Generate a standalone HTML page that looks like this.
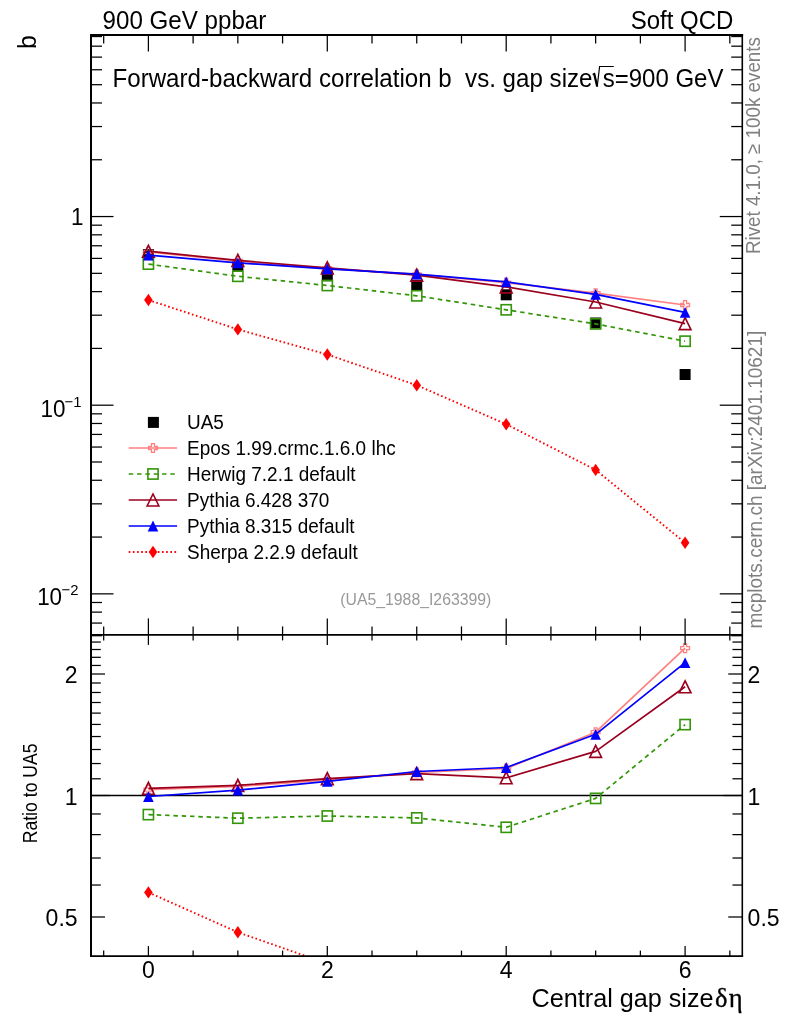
<!DOCTYPE html>
<html><head><meta charset="utf-8"><title>Forward-backward correlation b vs. gap size</title>
<style>html,body{margin:0;padding:0;background:#fff}svg{display:block;will-change:transform}text{white-space:pre}</style></head>
<body><svg width="786" height="1024" viewBox="0 0 786 1024">
<rect width="786" height="1024" fill="#fff"/>
<clipPath id="cr"><rect x="91.0" y="634.9" width="651.25" height="321.20000000000005"/></clipPath>
<rect x="142.9" y="249.1" width="11" height="11" fill="#000"/>
<rect x="232.35" y="259.8" width="11" height="11" fill="#000"/>
<rect x="321.8" y="270.3" width="11" height="11" fill="#000"/>
<rect x="411.25" y="279.8" width="11" height="11" fill="#000"/>
<rect x="500.7" y="289.3" width="11" height="11" fill="#000"/>
<rect x="590.15" y="317.5" width="11" height="11" fill="#000"/>
<rect x="679.6" y="369" width="11" height="11" fill="#000"/>
<polyline points="148.4,252 237.85,261 327.3,268.4 416.75,274.4 506.2,282.6 595.65,293.2 685.1,305" fill="none" stroke="#ff8080" stroke-width="1.7" stroke-linejoin="round" />
<path d="M146.9 247.6H149.9V250.5H152.8V253.5H149.9V256.4H146.9V253.5H144V250.5H146.9Z" fill="none" stroke="#ff8080" stroke-width="1.3"/>
<path d="M236.35 256.6H239.35V259.5H242.25V262.5H239.35V265.4H236.35V262.5H233.45V259.5H236.35Z" fill="none" stroke="#ff8080" stroke-width="1.3"/>
<path d="M325.8 264H328.8V266.9H331.7V269.9H328.8V272.8H325.8V269.9H322.9V266.9H325.8Z" fill="none" stroke="#ff8080" stroke-width="1.3"/>
<path d="M415.25 270H418.25V272.9H421.15V275.9H418.25V278.8H415.25V275.9H412.35V272.9H415.25Z" fill="none" stroke="#ff8080" stroke-width="1.3"/>
<path d="M504.7 278.2H507.7V281.1H510.6V284.1H507.7V287H504.7V284.1H501.8V281.1H504.7Z" fill="none" stroke="#ff8080" stroke-width="1.3"/>
<path d="M594.15 288.8H597.15V291.7H600.05V294.7H597.15V297.6H594.15V294.7H591.25V291.7H594.15Z" fill="none" stroke="#ff8080" stroke-width="1.3"/>
<path d="M683.6 300.6H686.6V303.5H689.5V306.5H686.6V309.4H683.6V306.5H680.7V303.5H683.6Z" fill="none" stroke="#ff8080" stroke-width="1.3"/>
<polyline points="148.4,264.1 237.85,276.3 327.3,285.5 416.75,295.8 506.2,309.8 595.65,323.9 685.1,341.2" fill="none" stroke="#339508" stroke-width="1.7" stroke-linejoin="round" stroke-dasharray="4.5 3.83" />
<rect x="143.3" y="259" width="10.2" height="10.2" fill="none" stroke="#339508" stroke-width="1.6"/>
<rect x="232.75" y="271.2" width="10.2" height="10.2" fill="none" stroke="#339508" stroke-width="1.6"/>
<rect x="322.2" y="280.4" width="10.2" height="10.2" fill="none" stroke="#339508" stroke-width="1.6"/>
<rect x="411.65" y="290.7" width="10.2" height="10.2" fill="none" stroke="#339508" stroke-width="1.6"/>
<rect x="501.1" y="304.7" width="10.2" height="10.2" fill="none" stroke="#339508" stroke-width="1.6"/>
<rect x="590.55" y="318.8" width="10.2" height="10.2" fill="none" stroke="#339508" stroke-width="1.6"/>
<rect x="680" y="336.1" width="10.2" height="10.2" fill="none" stroke="#339508" stroke-width="1.6"/>
<polyline points="148.4,251.2 237.85,260.4 327.3,267.9 416.75,275.1 506.2,286.9 595.65,302 685.1,323.6" fill="none" stroke="#9a001e" stroke-width="1.7" stroke-linejoin="round" />
<path d="M142.5 257.2L154.3 257.2L148.4 245.2Z" fill="none" stroke="#9a001e" stroke-width="1.6" stroke-linejoin="miter"/>
<path d="M231.95 266.4L243.75 266.4L237.85 254.4Z" fill="none" stroke="#9a001e" stroke-width="1.6" stroke-linejoin="miter"/>
<path d="M321.4 273.9L333.2 273.9L327.3 261.9Z" fill="none" stroke="#9a001e" stroke-width="1.6" stroke-linejoin="miter"/>
<path d="M410.85 281.1L422.65 281.1L416.75 269.1Z" fill="none" stroke="#9a001e" stroke-width="1.6" stroke-linejoin="miter"/>
<path d="M500.3 292.9L512.1 292.9L506.2 280.9Z" fill="none" stroke="#9a001e" stroke-width="1.6" stroke-linejoin="miter"/>
<path d="M589.75 308L601.55 308L595.65 296Z" fill="none" stroke="#9a001e" stroke-width="1.6" stroke-linejoin="miter"/>
<path d="M679.2 329.6L691 329.6L685.1 317.6Z" fill="none" stroke="#9a001e" stroke-width="1.6" stroke-linejoin="miter"/>
<polyline points="148.4,255.1 237.85,262.8 327.3,268.9 416.75,274.2 506.2,281.9 595.65,294.3 685.1,312.3" fill="none" stroke="#0000ff" stroke-width="1.7" stroke-linejoin="round" />
<path d="M143.1 260.5L153.7 260.5L148.4 249.7Z" fill="#0000ff"/>
<path d="M232.55 268.2L243.15 268.2L237.85 257.4Z" fill="#0000ff"/>
<path d="M322 274.3L332.6 274.3L327.3 263.5Z" fill="#0000ff"/>
<path d="M411.45 279.6L422.05 279.6L416.75 268.8Z" fill="#0000ff"/>
<path d="M500.9 287.3L511.5 287.3L506.2 276.5Z" fill="#0000ff"/>
<path d="M590.35 299.7L600.95 299.7L595.65 288.9Z" fill="#0000ff"/>
<path d="M679.8 317.7L690.4 317.7L685.1 306.9Z" fill="#0000ff"/>
<polyline points="148.4,300 237.85,329.4 327.3,354.5 416.75,385.2 506.2,424.2 595.65,469.9 685.1,542.8" fill="none" stroke="#ff0000" stroke-width="1.9" stroke-linejoin="round" stroke-dasharray="1.6 2.565" />
<path d="M144.1 300L148.4 293.8L152.7 300L148.4 306.2Z" fill="#ff0000"/>
<path d="M233.55 329.4L237.85 323.2L242.15 329.4L237.85 335.6Z" fill="#ff0000"/>
<path d="M323 354.5L327.3 348.3L331.6 354.5L327.3 360.7Z" fill="#ff0000"/>
<path d="M412.45 385.2L416.75 379L421.05 385.2L416.75 391.4Z" fill="#ff0000"/>
<path d="M501.9 424.2L506.2 418L510.5 424.2L506.2 430.4Z" fill="#ff0000"/>
<path d="M591.35 469.9L595.65 463.7L599.95 469.9L595.65 476.1Z" fill="#ff0000"/>
<path d="M680.8 542.8L685.1 536.6L689.4 542.8L685.1 549Z" fill="#ff0000"/>
<line x1="91" y1="795.5" x2="742.25" y2="795.5" stroke="#000" stroke-width="1.3" />
<polyline points="148.4,789.7 237.85,786.5 327.3,780 416.75,772.5 506.2,768.5 595.65,732.2 685.1,648.2" fill="none" stroke="#ff8080" stroke-width="1.7" stroke-linejoin="round" clip-path="url(#cr)" />
<path d="M146.9 785.3H149.9V788.2H152.8V791.2H149.9V794.1H146.9V791.2H144V788.2H146.9Z" fill="none" stroke="#ff8080" stroke-width="1.3"/>
<path d="M236.35 782.1H239.35V785H242.25V788H239.35V790.9H236.35V788H233.45V785H236.35Z" fill="none" stroke="#ff8080" stroke-width="1.3"/>
<path d="M325.8 775.6H328.8V778.5H331.7V781.5H328.8V784.4H325.8V781.5H322.9V778.5H325.8Z" fill="none" stroke="#ff8080" stroke-width="1.3"/>
<path d="M415.25 768.1H418.25V771H421.15V774H418.25V776.9H415.25V774H412.35V771H415.25Z" fill="none" stroke="#ff8080" stroke-width="1.3"/>
<path d="M504.7 764.1H507.7V767H510.6V770H507.7V772.9H504.7V770H501.8V767H504.7Z" fill="none" stroke="#ff8080" stroke-width="1.3"/>
<path d="M594.15 727.8H597.15V730.7H600.05V733.7H597.15V736.6H594.15V733.7H591.25V730.7H594.15Z" fill="none" stroke="#ff8080" stroke-width="1.3"/>
<path d="M683.6 643.8H686.6V646.7H689.5V649.7H686.6V652.6H683.6V649.7H680.7V646.7H683.6Z" fill="none" stroke="#ff8080" stroke-width="1.3"/>
<polyline points="148.4,814.6 237.85,818.2 327.3,816 416.75,817.9 506.2,827.3 595.65,798.4 685.1,724.6" fill="none" stroke="#339508" stroke-width="1.7" stroke-linejoin="round" stroke-dasharray="4.5 3.83" clip-path="url(#cr)" />
<rect x="143.3" y="809.5" width="10.2" height="10.2" fill="none" stroke="#339508" stroke-width="1.6"/>
<rect x="232.75" y="813.1" width="10.2" height="10.2" fill="none" stroke="#339508" stroke-width="1.6"/>
<rect x="322.2" y="810.9" width="10.2" height="10.2" fill="none" stroke="#339508" stroke-width="1.6"/>
<rect x="411.65" y="812.8" width="10.2" height="10.2" fill="none" stroke="#339508" stroke-width="1.6"/>
<rect x="501.1" y="822.2" width="10.2" height="10.2" fill="none" stroke="#339508" stroke-width="1.6"/>
<rect x="590.55" y="793.3" width="10.2" height="10.2" fill="none" stroke="#339508" stroke-width="1.6"/>
<rect x="680" y="719.5" width="10.2" height="10.2" fill="none" stroke="#339508" stroke-width="1.6"/>
<polyline points="148.4,788.4 237.85,785.4 327.3,778.6 416.75,773.6 506.2,777.8 595.65,751.4 685.1,686.8" fill="none" stroke="#9a001e" stroke-width="1.7" stroke-linejoin="round" clip-path="url(#cr)" />
<path d="M142.5 794.4L154.3 794.4L148.4 782.4Z" fill="none" stroke="#9a001e" stroke-width="1.6" stroke-linejoin="miter"/>
<path d="M231.95 791.4L243.75 791.4L237.85 779.4Z" fill="none" stroke="#9a001e" stroke-width="1.6" stroke-linejoin="miter"/>
<path d="M321.4 784.6L333.2 784.6L327.3 772.6Z" fill="none" stroke="#9a001e" stroke-width="1.6" stroke-linejoin="miter"/>
<path d="M410.85 779.6L422.65 779.6L416.75 767.6Z" fill="none" stroke="#9a001e" stroke-width="1.6" stroke-linejoin="miter"/>
<path d="M500.3 783.8L512.1 783.8L506.2 771.8Z" fill="none" stroke="#9a001e" stroke-width="1.6" stroke-linejoin="miter"/>
<path d="M589.75 757.4L601.55 757.4L595.65 745.4Z" fill="none" stroke="#9a001e" stroke-width="1.6" stroke-linejoin="miter"/>
<path d="M679.2 692.8L691 692.8L685.1 680.8Z" fill="none" stroke="#9a001e" stroke-width="1.6" stroke-linejoin="miter"/>
<polyline points="148.4,796.5 237.85,790.2 327.3,781.4 416.75,771.5 506.2,767.5 595.65,734.3 685.1,662.6" fill="none" stroke="#0000ff" stroke-width="1.7" stroke-linejoin="round" clip-path="url(#cr)" />
<path d="M143.1 801.9L153.7 801.9L148.4 791.1Z" fill="#0000ff"/>
<path d="M232.55 795.6L243.15 795.6L237.85 784.8Z" fill="#0000ff"/>
<path d="M322 786.8L332.6 786.8L327.3 776Z" fill="#0000ff"/>
<path d="M411.45 776.9L422.05 776.9L416.75 766.1Z" fill="#0000ff"/>
<path d="M500.9 772.9L511.5 772.9L506.2 762.1Z" fill="#0000ff"/>
<path d="M590.35 739.7L600.95 739.7L595.65 728.9Z" fill="#0000ff"/>
<path d="M679.8 668L690.4 668L685.1 657.2Z" fill="#0000ff"/>
<polyline points="148.4,892.4 237.85,932.3 327.3,963.5" fill="none" stroke="#ff0000" stroke-width="1.9" stroke-linejoin="round" stroke-dasharray="1.6 2.565" clip-path="url(#cr)" />
<path d="M144.1 892.4L148.4 886.2L152.7 892.4L148.4 898.6Z" fill="#ff0000"/>
<path d="M233.55 932.3L237.85 926.1L242.15 932.3L237.85 938.5Z" fill="#ff0000"/>
<line x1="103.68" y1="35" x2="103.68" y2="43.5" stroke="#000" stroke-width="1.25" />
<line x1="103.68" y1="634.9" x2="103.68" y2="626.4" stroke="#000" stroke-width="1.25" />
<line x1="103.68" y1="634.9" x2="103.68" y2="640.4" stroke="#000" stroke-width="1.25" />
<line x1="103.68" y1="956.1" x2="103.68" y2="950.6" stroke="#000" stroke-width="1.25" />
<line x1="148.4" y1="35" x2="148.4" y2="51.5" stroke="#000" stroke-width="1.25" />
<line x1="148.4" y1="634.9" x2="148.4" y2="618.4" stroke="#000" stroke-width="1.25" />
<line x1="148.4" y1="634.9" x2="148.4" y2="644.9" stroke="#000" stroke-width="1.25" />
<line x1="148.4" y1="956.1" x2="148.4" y2="946.1" stroke="#000" stroke-width="1.25" />
<line x1="193.12" y1="35" x2="193.12" y2="43.5" stroke="#000" stroke-width="1.25" />
<line x1="193.12" y1="634.9" x2="193.12" y2="626.4" stroke="#000" stroke-width="1.25" />
<line x1="193.12" y1="634.9" x2="193.12" y2="640.4" stroke="#000" stroke-width="1.25" />
<line x1="193.12" y1="956.1" x2="193.12" y2="950.6" stroke="#000" stroke-width="1.25" />
<line x1="237.85" y1="35" x2="237.85" y2="43.5" stroke="#000" stroke-width="1.25" />
<line x1="237.85" y1="634.9" x2="237.85" y2="626.4" stroke="#000" stroke-width="1.25" />
<line x1="237.85" y1="634.9" x2="237.85" y2="640.4" stroke="#000" stroke-width="1.25" />
<line x1="237.85" y1="956.1" x2="237.85" y2="950.6" stroke="#000" stroke-width="1.25" />
<line x1="282.58" y1="35" x2="282.58" y2="43.5" stroke="#000" stroke-width="1.25" />
<line x1="282.58" y1="634.9" x2="282.58" y2="626.4" stroke="#000" stroke-width="1.25" />
<line x1="282.58" y1="634.9" x2="282.58" y2="640.4" stroke="#000" stroke-width="1.25" />
<line x1="282.58" y1="956.1" x2="282.58" y2="950.6" stroke="#000" stroke-width="1.25" />
<line x1="327.3" y1="35" x2="327.3" y2="51.5" stroke="#000" stroke-width="1.25" />
<line x1="327.3" y1="634.9" x2="327.3" y2="618.4" stroke="#000" stroke-width="1.25" />
<line x1="327.3" y1="634.9" x2="327.3" y2="644.9" stroke="#000" stroke-width="1.25" />
<line x1="327.3" y1="956.1" x2="327.3" y2="946.1" stroke="#000" stroke-width="1.25" />
<line x1="372.02" y1="35" x2="372.02" y2="43.5" stroke="#000" stroke-width="1.25" />
<line x1="372.02" y1="634.9" x2="372.02" y2="626.4" stroke="#000" stroke-width="1.25" />
<line x1="372.02" y1="634.9" x2="372.02" y2="640.4" stroke="#000" stroke-width="1.25" />
<line x1="372.02" y1="956.1" x2="372.02" y2="950.6" stroke="#000" stroke-width="1.25" />
<line x1="416.75" y1="35" x2="416.75" y2="43.5" stroke="#000" stroke-width="1.25" />
<line x1="416.75" y1="634.9" x2="416.75" y2="626.4" stroke="#000" stroke-width="1.25" />
<line x1="416.75" y1="634.9" x2="416.75" y2="640.4" stroke="#000" stroke-width="1.25" />
<line x1="416.75" y1="956.1" x2="416.75" y2="950.6" stroke="#000" stroke-width="1.25" />
<line x1="461.48" y1="35" x2="461.48" y2="43.5" stroke="#000" stroke-width="1.25" />
<line x1="461.48" y1="634.9" x2="461.48" y2="626.4" stroke="#000" stroke-width="1.25" />
<line x1="461.48" y1="634.9" x2="461.48" y2="640.4" stroke="#000" stroke-width="1.25" />
<line x1="461.48" y1="956.1" x2="461.48" y2="950.6" stroke="#000" stroke-width="1.25" />
<line x1="506.2" y1="35" x2="506.2" y2="51.5" stroke="#000" stroke-width="1.25" />
<line x1="506.2" y1="634.9" x2="506.2" y2="618.4" stroke="#000" stroke-width="1.25" />
<line x1="506.2" y1="634.9" x2="506.2" y2="644.9" stroke="#000" stroke-width="1.25" />
<line x1="506.2" y1="956.1" x2="506.2" y2="946.1" stroke="#000" stroke-width="1.25" />
<line x1="550.93" y1="35" x2="550.93" y2="43.5" stroke="#000" stroke-width="1.25" />
<line x1="550.93" y1="634.9" x2="550.93" y2="626.4" stroke="#000" stroke-width="1.25" />
<line x1="550.93" y1="634.9" x2="550.93" y2="640.4" stroke="#000" stroke-width="1.25" />
<line x1="550.93" y1="956.1" x2="550.93" y2="950.6" stroke="#000" stroke-width="1.25" />
<line x1="595.65" y1="35" x2="595.65" y2="43.5" stroke="#000" stroke-width="1.25" />
<line x1="595.65" y1="634.9" x2="595.65" y2="626.4" stroke="#000" stroke-width="1.25" />
<line x1="595.65" y1="634.9" x2="595.65" y2="640.4" stroke="#000" stroke-width="1.25" />
<line x1="595.65" y1="956.1" x2="595.65" y2="950.6" stroke="#000" stroke-width="1.25" />
<line x1="640.38" y1="35" x2="640.38" y2="43.5" stroke="#000" stroke-width="1.25" />
<line x1="640.38" y1="634.9" x2="640.38" y2="626.4" stroke="#000" stroke-width="1.25" />
<line x1="640.38" y1="634.9" x2="640.38" y2="640.4" stroke="#000" stroke-width="1.25" />
<line x1="640.38" y1="956.1" x2="640.38" y2="950.6" stroke="#000" stroke-width="1.25" />
<line x1="685.1" y1="35" x2="685.1" y2="51.5" stroke="#000" stroke-width="1.25" />
<line x1="685.1" y1="634.9" x2="685.1" y2="618.4" stroke="#000" stroke-width="1.25" />
<line x1="685.1" y1="634.9" x2="685.1" y2="644.9" stroke="#000" stroke-width="1.25" />
<line x1="685.1" y1="956.1" x2="685.1" y2="946.1" stroke="#000" stroke-width="1.25" />
<line x1="729.83" y1="35" x2="729.83" y2="43.5" stroke="#000" stroke-width="1.25" />
<line x1="729.83" y1="634.9" x2="729.83" y2="626.4" stroke="#000" stroke-width="1.25" />
<line x1="729.83" y1="634.9" x2="729.83" y2="640.4" stroke="#000" stroke-width="1.25" />
<line x1="729.83" y1="956.1" x2="729.83" y2="950.6" stroke="#000" stroke-width="1.25" />
<line x1="91" y1="216.55" x2="113.5" y2="216.55" stroke="#000" stroke-width="1.25" />
<line x1="742.25" y1="216.55" x2="719.75" y2="216.55" stroke="#000" stroke-width="1.25" />
<line x1="91" y1="159.76" x2="102" y2="159.76" stroke="#000" stroke-width="1.25" />
<line x1="742.25" y1="159.76" x2="731.25" y2="159.76" stroke="#000" stroke-width="1.25" />
<line x1="91" y1="126.54" x2="102" y2="126.54" stroke="#000" stroke-width="1.25" />
<line x1="742.25" y1="126.54" x2="731.25" y2="126.54" stroke="#000" stroke-width="1.25" />
<line x1="91" y1="102.97" x2="102" y2="102.97" stroke="#000" stroke-width="1.25" />
<line x1="742.25" y1="102.97" x2="731.25" y2="102.97" stroke="#000" stroke-width="1.25" />
<line x1="91" y1="84.69" x2="102" y2="84.69" stroke="#000" stroke-width="1.25" />
<line x1="742.25" y1="84.69" x2="731.25" y2="84.69" stroke="#000" stroke-width="1.25" />
<line x1="91" y1="69.75" x2="102" y2="69.75" stroke="#000" stroke-width="1.25" />
<line x1="742.25" y1="69.75" x2="731.25" y2="69.75" stroke="#000" stroke-width="1.25" />
<line x1="91" y1="57.12" x2="102" y2="57.12" stroke="#000" stroke-width="1.25" />
<line x1="742.25" y1="57.12" x2="731.25" y2="57.12" stroke="#000" stroke-width="1.25" />
<line x1="91" y1="46.18" x2="102" y2="46.18" stroke="#000" stroke-width="1.25" />
<line x1="742.25" y1="46.18" x2="731.25" y2="46.18" stroke="#000" stroke-width="1.25" />
<line x1="91" y1="36.53" x2="102" y2="36.53" stroke="#000" stroke-width="1.25" />
<line x1="742.25" y1="36.53" x2="731.25" y2="36.53" stroke="#000" stroke-width="1.25" />
<line x1="91" y1="405.2" x2="113.5" y2="405.2" stroke="#000" stroke-width="1.25" />
<line x1="742.25" y1="405.2" x2="719.75" y2="405.2" stroke="#000" stroke-width="1.25" />
<line x1="91" y1="348.41" x2="102" y2="348.41" stroke="#000" stroke-width="1.25" />
<line x1="742.25" y1="348.41" x2="731.25" y2="348.41" stroke="#000" stroke-width="1.25" />
<line x1="91" y1="315.19" x2="102" y2="315.19" stroke="#000" stroke-width="1.25" />
<line x1="742.25" y1="315.19" x2="731.25" y2="315.19" stroke="#000" stroke-width="1.25" />
<line x1="91" y1="291.62" x2="102" y2="291.62" stroke="#000" stroke-width="1.25" />
<line x1="742.25" y1="291.62" x2="731.25" y2="291.62" stroke="#000" stroke-width="1.25" />
<line x1="91" y1="273.34" x2="102" y2="273.34" stroke="#000" stroke-width="1.25" />
<line x1="742.25" y1="273.34" x2="731.25" y2="273.34" stroke="#000" stroke-width="1.25" />
<line x1="91" y1="258.4" x2="102" y2="258.4" stroke="#000" stroke-width="1.25" />
<line x1="742.25" y1="258.4" x2="731.25" y2="258.4" stroke="#000" stroke-width="1.25" />
<line x1="91" y1="245.77" x2="102" y2="245.77" stroke="#000" stroke-width="1.25" />
<line x1="742.25" y1="245.77" x2="731.25" y2="245.77" stroke="#000" stroke-width="1.25" />
<line x1="91" y1="234.83" x2="102" y2="234.83" stroke="#000" stroke-width="1.25" />
<line x1="742.25" y1="234.83" x2="731.25" y2="234.83" stroke="#000" stroke-width="1.25" />
<line x1="91" y1="225.18" x2="102" y2="225.18" stroke="#000" stroke-width="1.25" />
<line x1="742.25" y1="225.18" x2="731.25" y2="225.18" stroke="#000" stroke-width="1.25" />
<line x1="91" y1="593.85" x2="113.5" y2="593.85" stroke="#000" stroke-width="1.25" />
<line x1="742.25" y1="593.85" x2="719.75" y2="593.85" stroke="#000" stroke-width="1.25" />
<line x1="91" y1="537.06" x2="102" y2="537.06" stroke="#000" stroke-width="1.25" />
<line x1="742.25" y1="537.06" x2="731.25" y2="537.06" stroke="#000" stroke-width="1.25" />
<line x1="91" y1="503.84" x2="102" y2="503.84" stroke="#000" stroke-width="1.25" />
<line x1="742.25" y1="503.84" x2="731.25" y2="503.84" stroke="#000" stroke-width="1.25" />
<line x1="91" y1="480.27" x2="102" y2="480.27" stroke="#000" stroke-width="1.25" />
<line x1="742.25" y1="480.27" x2="731.25" y2="480.27" stroke="#000" stroke-width="1.25" />
<line x1="91" y1="461.99" x2="102" y2="461.99" stroke="#000" stroke-width="1.25" />
<line x1="742.25" y1="461.99" x2="731.25" y2="461.99" stroke="#000" stroke-width="1.25" />
<line x1="91" y1="447.05" x2="102" y2="447.05" stroke="#000" stroke-width="1.25" />
<line x1="742.25" y1="447.05" x2="731.25" y2="447.05" stroke="#000" stroke-width="1.25" />
<line x1="91" y1="434.42" x2="102" y2="434.42" stroke="#000" stroke-width="1.25" />
<line x1="742.25" y1="434.42" x2="731.25" y2="434.42" stroke="#000" stroke-width="1.25" />
<line x1="91" y1="423.48" x2="102" y2="423.48" stroke="#000" stroke-width="1.25" />
<line x1="742.25" y1="423.48" x2="731.25" y2="423.48" stroke="#000" stroke-width="1.25" />
<line x1="91" y1="413.83" x2="102" y2="413.83" stroke="#000" stroke-width="1.25" />
<line x1="742.25" y1="413.83" x2="731.25" y2="413.83" stroke="#000" stroke-width="1.25" />
<line x1="91" y1="635.7" x2="102" y2="635.7" stroke="#000" stroke-width="1.25" />
<line x1="742.25" y1="635.7" x2="731.25" y2="635.7" stroke="#000" stroke-width="1.25" />
<line x1="91" y1="623.07" x2="102" y2="623.07" stroke="#000" stroke-width="1.25" />
<line x1="742.25" y1="623.07" x2="731.25" y2="623.07" stroke="#000" stroke-width="1.25" />
<line x1="91" y1="612.13" x2="102" y2="612.13" stroke="#000" stroke-width="1.25" />
<line x1="742.25" y1="612.13" x2="731.25" y2="612.13" stroke="#000" stroke-width="1.25" />
<line x1="91" y1="602.48" x2="102" y2="602.48" stroke="#000" stroke-width="1.25" />
<line x1="742.25" y1="602.48" x2="731.25" y2="602.48" stroke="#000" stroke-width="1.25" />
<line x1="91" y1="916.99" x2="105" y2="916.99" stroke="#000" stroke-width="1.25" />
<line x1="742.25" y1="916.99" x2="728.25" y2="916.99" stroke="#000" stroke-width="1.25" />
<line x1="91" y1="885.03" x2="100.8" y2="885.03" stroke="#000" stroke-width="1.25" />
<line x1="742.25" y1="885.03" x2="732.45" y2="885.03" stroke="#000" stroke-width="1.25" />
<line x1="91" y1="858.02" x2="100.8" y2="858.02" stroke="#000" stroke-width="1.25" />
<line x1="742.25" y1="858.02" x2="732.45" y2="858.02" stroke="#000" stroke-width="1.25" />
<line x1="91" y1="834.61" x2="100.8" y2="834.61" stroke="#000" stroke-width="1.25" />
<line x1="742.25" y1="834.61" x2="732.45" y2="834.61" stroke="#000" stroke-width="1.25" />
<line x1="91" y1="813.97" x2="100.8" y2="813.97" stroke="#000" stroke-width="1.25" />
<line x1="742.25" y1="813.97" x2="732.45" y2="813.97" stroke="#000" stroke-width="1.25" />
<line x1="91" y1="795.5" x2="110" y2="795.5" stroke="#000" stroke-width="1.25" />
<line x1="742.25" y1="795.5" x2="723.25" y2="795.5" stroke="#000" stroke-width="1.25" />
<line x1="91" y1="778.79" x2="100.8" y2="778.79" stroke="#000" stroke-width="1.25" />
<line x1="742.25" y1="778.79" x2="732.45" y2="778.79" stroke="#000" stroke-width="1.25" />
<line x1="91" y1="763.54" x2="100.8" y2="763.54" stroke="#000" stroke-width="1.25" />
<line x1="742.25" y1="763.54" x2="732.45" y2="763.54" stroke="#000" stroke-width="1.25" />
<line x1="91" y1="749.51" x2="100.8" y2="749.51" stroke="#000" stroke-width="1.25" />
<line x1="742.25" y1="749.51" x2="732.45" y2="749.51" stroke="#000" stroke-width="1.25" />
<line x1="91" y1="736.53" x2="100.8" y2="736.53" stroke="#000" stroke-width="1.25" />
<line x1="742.25" y1="736.53" x2="732.45" y2="736.53" stroke="#000" stroke-width="1.25" />
<line x1="91" y1="724.43" x2="100.8" y2="724.43" stroke="#000" stroke-width="1.25" />
<line x1="742.25" y1="724.43" x2="732.45" y2="724.43" stroke="#000" stroke-width="1.25" />
<line x1="91" y1="713.12" x2="100.8" y2="713.12" stroke="#000" stroke-width="1.25" />
<line x1="742.25" y1="713.12" x2="732.45" y2="713.12" stroke="#000" stroke-width="1.25" />
<line x1="91" y1="702.5" x2="100.8" y2="702.5" stroke="#000" stroke-width="1.25" />
<line x1="742.25" y1="702.5" x2="732.45" y2="702.5" stroke="#000" stroke-width="1.25" />
<line x1="91" y1="692.48" x2="100.8" y2="692.48" stroke="#000" stroke-width="1.25" />
<line x1="742.25" y1="692.48" x2="732.45" y2="692.48" stroke="#000" stroke-width="1.25" />
<line x1="91" y1="683" x2="100.8" y2="683" stroke="#000" stroke-width="1.25" />
<line x1="742.25" y1="683" x2="732.45" y2="683" stroke="#000" stroke-width="1.25" />
<line x1="91" y1="674.01" x2="105" y2="674.01" stroke="#000" stroke-width="1.25" />
<line x1="742.25" y1="674.01" x2="728.25" y2="674.01" stroke="#000" stroke-width="1.25" />
<line x1="91" y1="665.46" x2="100.8" y2="665.46" stroke="#000" stroke-width="1.25" />
<line x1="742.25" y1="665.46" x2="732.45" y2="665.46" stroke="#000" stroke-width="1.25" />
<line x1="91" y1="657.31" x2="100.8" y2="657.31" stroke="#000" stroke-width="1.25" />
<line x1="742.25" y1="657.31" x2="732.45" y2="657.31" stroke="#000" stroke-width="1.25" />
<line x1="91" y1="649.51" x2="100.8" y2="649.51" stroke="#000" stroke-width="1.25" />
<line x1="742.25" y1="649.51" x2="732.45" y2="649.51" stroke="#000" stroke-width="1.25" />
<line x1="91" y1="642.05" x2="100.8" y2="642.05" stroke="#000" stroke-width="1.25" />
<line x1="742.25" y1="642.05" x2="732.45" y2="642.05" stroke="#000" stroke-width="1.25" />
<line x1="91" y1="34" x2="91" y2="956.9" stroke="#000" stroke-width="2" />
<line x1="90" y1="35" x2="743.1" y2="35" stroke="#000" stroke-width="2" />
<line x1="742.3" y1="34" x2="742.3" y2="956.9" stroke="#000" stroke-width="1.6" />
<line x1="90" y1="956.1" x2="743.1" y2="956.1" stroke="#000" stroke-width="1.6" />
<line x1="91" y1="634.9" x2="742.25" y2="634.9" stroke="#000" stroke-width="1.8" />
<text transform="translate(102.6 29) scale(0.966 1)" font-size="25" text-anchor="start" fill="#000" font-family="'Liberation Sans',sans-serif" >900 GeV ppbar</text>
<text transform="translate(733.4 29) scale(0.96 1)" font-size="25" text-anchor="end" fill="#000" font-family="'Liberation Sans',sans-serif" >Soft QCD</text>
<text transform="translate(112.5 86.8) scale(0.95 1)" font-size="25.4" text-anchor="start" fill="#000" font-family="'Liberation Sans',sans-serif" >Forward-backward correlation b  vs. gap size</text>
<text transform="translate(602.7 86.8) scale(0.945 1)" font-size="25.4" text-anchor="start" fill="#000" font-family="'Liberation Sans',sans-serif" >s=900 GeV</text>
<path d="M592.6 74.6L594.3 73.4L597.2 86.6L599.6 66.5H613.8" fill="none" stroke="#000" stroke-width="1.2"/>
<path d="M594.1 73.6L597.2 86.6" fill="none" stroke="#000" stroke-width="2.2"/>
<text transform="translate(83.6 225.2) scale(0.927 1)" font-size="24.2" text-anchor="end" fill="#000" font-family="'Liberation Sans',sans-serif" >1</text>
<text transform="translate(65.5 416.6) scale(0.927 1)" font-size="24.2" text-anchor="end" fill="#000" font-family="'Liberation Sans',sans-serif" >10</text>
<text transform="translate(64.5 406.7) scale(0.98 1)" font-size="15.2" text-anchor="start" fill="#000" font-family="'Liberation Sans',sans-serif" >−1</text>
<text transform="translate(62.1 605.25) scale(0.927 1)" font-size="24.2" text-anchor="end" fill="#000" font-family="'Liberation Sans',sans-serif" >10</text>
<text transform="translate(61.6 595.35) scale(0.98 1)" font-size="15.2" text-anchor="start" fill="#000" font-family="'Liberation Sans',sans-serif" >−2</text>
<text transform="translate(77.6 683.01) scale(0.937 1)" font-size="24.6" text-anchor="end" fill="#000" font-family="'Liberation Sans',sans-serif" >2</text>
<text transform="translate(747.6 683.01) scale(0.937 1)" font-size="24.6" text-anchor="start" fill="#000" font-family="'Liberation Sans',sans-serif" >2</text>
<text transform="translate(77.6 804.5) scale(0.937 1)" font-size="24.6" text-anchor="end" fill="#000" font-family="'Liberation Sans',sans-serif" >1</text>
<text transform="translate(747.6 804.5) scale(0.937 1)" font-size="24.6" text-anchor="start" fill="#000" font-family="'Liberation Sans',sans-serif" >1</text>
<text transform="translate(77.6 925.99) scale(0.937 1)" font-size="24.6" text-anchor="end" fill="#000" font-family="'Liberation Sans',sans-serif" >0.5</text>
<text transform="translate(747.6 925.99) scale(0.937 1)" font-size="24.6" text-anchor="start" fill="#000" font-family="'Liberation Sans',sans-serif" >0.5</text>
<text transform="translate(148.4 978.3) scale(0.937 1)" font-size="24.6" text-anchor="middle" fill="#000" font-family="'Liberation Sans',sans-serif" >0</text>
<text transform="translate(327.3 978.3) scale(0.937 1)" font-size="24.6" text-anchor="middle" fill="#000" font-family="'Liberation Sans',sans-serif" >2</text>
<text transform="translate(506.2 978.3) scale(0.937 1)" font-size="24.6" text-anchor="middle" fill="#000" font-family="'Liberation Sans',sans-serif" >4</text>
<text transform="translate(685.1 978.3) scale(0.937 1)" font-size="24.6" text-anchor="middle" fill="#000" font-family="'Liberation Sans',sans-serif" >6</text>
<text transform="translate(742.6 1007)" font-size="25.2" text-anchor="end" fill="#000" font-family="'Liberation Sans',sans-serif" >Central gap size<tspan dx="1.5" font-size="26.5" stroke="#000" stroke-width="0.35" font-family="'Liberation Serif',serif">δ<tspan dx="1.2">η</tspan></tspan></text>
<text transform="translate(35.8 35) rotate(-90)" font-size="25" text-anchor="end" fill="#000" font-family="'Liberation Sans',sans-serif" >b</text>
<text transform="translate(36.7 843.3) rotate(-90) scale(0.9 1)" font-size="19.6" text-anchor="start" fill="#000" font-family="'Liberation Sans',sans-serif" >Ratio to UA5</text>
<text transform="translate(760.2 254.1) rotate(-90) scale(0.94 1)" font-size="20.0" text-anchor="start" fill="#808080" font-family="'Liberation Sans',sans-serif" >Rivet 4.1.0, ≥ 100k events</text>
<text transform="translate(762 628.6) rotate(-90) scale(0.9465 1)" font-size="20.1" text-anchor="start" fill="#808080" font-family="'Liberation Sans',sans-serif" >mcplots.cern.ch [arXiv:2401.10621]</text>
<text transform="translate(415.8 604.8)" font-size="15.8" text-anchor="middle" fill="#999999" font-family="'Liberation Sans',sans-serif" >(UA5_1988_I263399)</text>
<rect x="147.9" y="416.9" width="11" height="11" fill="#000"/>
<line x1="128.7" y1="448" x2="177.1" y2="448" stroke="#ff8080" stroke-width="1.7" />
<path d="M151.5 443.6H154.5V446.5H157.4V449.5H154.5V452.4H151.5V449.5H148.6V446.5H151.5Z" fill="none" stroke="#ff8080" stroke-width="1.3"/>
<line x1="128.7" y1="474" x2="177.1" y2="474" stroke="#339508" stroke-width="1.7" stroke-dasharray="4.5 3.83"/>
<rect x="147.9" y="468.9" width="10.2" height="10.2" fill="none" stroke="#339508" stroke-width="1.6"/>
<line x1="128.7" y1="500" x2="177.1" y2="500" stroke="#9a001e" stroke-width="1.7" />
<path d="M147.1 506L158.9 506L153 494Z" fill="none" stroke="#9a001e" stroke-width="1.6" stroke-linejoin="miter"/>
<line x1="128.7" y1="526" x2="177.1" y2="526" stroke="#0000ff" stroke-width="1.7" />
<path d="M147.7 531.4L158.3 531.4L153 520.6Z" fill="#0000ff"/>
<line x1="128.7" y1="552" x2="177.1" y2="552" stroke="#ff0000" stroke-width="1.9" stroke-dasharray="1.6 2.565"/>
<path d="M148.7 552L153 545.8L157.3 552L153 558.2Z" fill="#ff0000"/>
<text transform="translate(187 428.9) scale(0.93 1)" font-size="20.4" text-anchor="start" fill="#000" font-family="'Liberation Sans',sans-serif" >UA5</text>
<text transform="translate(187 454.5) scale(0.93 1)" font-size="20.4" text-anchor="start" fill="#000" font-family="'Liberation Sans',sans-serif" >Epos 1.99.crmc.1.6.0 lhc</text>
<text transform="translate(187 480.5) scale(0.93 1)" font-size="20.4" text-anchor="start" fill="#000" font-family="'Liberation Sans',sans-serif" >Herwig 7.2.1 default</text>
<text transform="translate(187 506.5) scale(0.93 1)" font-size="20.4" text-anchor="start" fill="#000" font-family="'Liberation Sans',sans-serif" >Pythia 6.428 370</text>
<text transform="translate(187 532.5) scale(0.93 1)" font-size="20.4" text-anchor="start" fill="#000" font-family="'Liberation Sans',sans-serif" >Pythia 8.315 default</text>
<text transform="translate(187 558.5) scale(0.93 1)" font-size="20.4" text-anchor="start" fill="#000" font-family="'Liberation Sans',sans-serif" >Sherpa 2.2.9 default</text>
</svg></body></html>
